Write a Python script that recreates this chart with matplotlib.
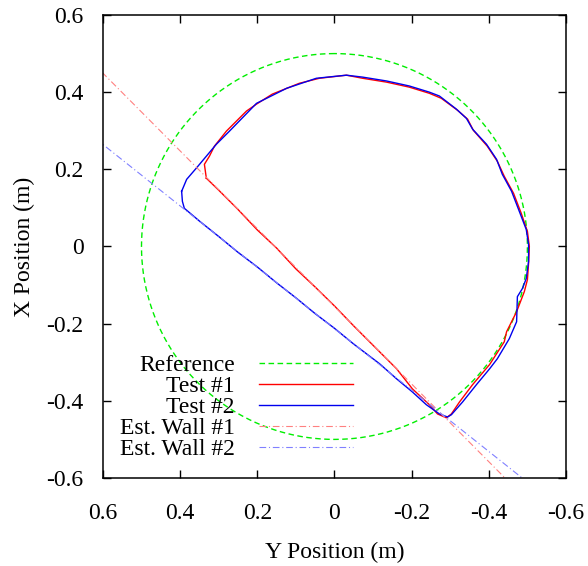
import numpy as np
import matplotlib
matplotlib.use("Agg")
import matplotlib.pyplot as plt

plt.rcParams['font.family'] = ['Liberation Serif', 'DejaVu Serif']
plt.rcParams['mathtext.fontset'] = 'stix'

# Reference circle (radius 0.5 m)
ref_radius = 0.5
ref_angles = np.linspace(0, 2 * np.pi, 361)

# Test #1 trajectory: Y position (horizontal) and X position (vertical)
test1_y = [0.332, 0.337, 0.324, 0.311, 0.280, 0.254, 0.228, 0.202, 0.161, 0.091,
           0.039, -0.031, -0.073, -0.135, -0.194, -0.246, -0.277, -0.319, -0.345, -0.360,
           -0.396, -0.422, -0.440, -0.464, -0.484, -0.500, -0.505, -0.503, -0.500, -0.492,
           -0.472, -0.446, -0.440, -0.402, -0.358, -0.324, -0.303, -0.290, -0.267, -0.246,
           -0.202, -0.161, -0.117, -0.050, 0.000, 0.050, 0.100, 0.150, 0.200, 0.250,
           0.300, 0.332]
test1_x = [0.177, 0.213, 0.234, 0.260, 0.299, 0.325, 0.351, 0.369, 0.395, 0.423,
           0.436, 0.444, 0.436, 0.426, 0.413, 0.397, 0.384, 0.353, 0.330, 0.301,
           0.260, 0.221, 0.182, 0.138, 0.086, 0.039, 0.000, -0.044, -0.086, -0.117,
           -0.169, -0.221, -0.247, -0.306, -0.358, -0.403, -0.434, -0.444, -0.434, -0.410,
           -0.369, -0.317, -0.273, -0.206, -0.154, -0.105, -0.058, -0.004, 0.043, 0.096,
           0.146, 0.177]

# Test #2 trajectory
test2_y = [0.396, 0.383, 0.358, 0.332, 0.306, 0.272, 0.202, 0.124, 0.047, -0.031,
           -0.073, -0.135, -0.194, -0.246, -0.272, -0.316, -0.342, -0.358, -0.394, -0.420,
           -0.435, -0.459, -0.479, -0.497, -0.503, -0.503, -0.497, -0.487, -0.474, -0.472,
           -0.453, -0.422, -0.402, -0.368, -0.332, -0.303, -0.293, -0.272, -0.238, -0.202,
           -0.161, -0.117, -0.050, 0.000, 0.050, 0.100, 0.150, 0.200, 0.250, 0.300,
           0.350, 0.389, 0.394, 0.396]
test2_x = [0.143, 0.174, 0.203, 0.234, 0.265, 0.299, 0.371, 0.410, 0.436, 0.444,
           0.439, 0.429, 0.416, 0.400, 0.390, 0.356, 0.332, 0.304, 0.265, 0.226,
           0.187, 0.143, 0.091, 0.044, 0.005, -0.039, -0.083, -0.109, -0.130, -0.195,
           -0.239, -0.291, -0.317, -0.358, -0.403, -0.436, -0.442, -0.434, -0.410, -0.377,
           -0.343, -0.304, -0.253, -0.212, -0.174, -0.133, -0.094, -0.053, -0.015, 0.026,
           0.066, 0.099, 0.117, 0.143]

# Estimated walls (end points)
wall1_y = [0.70, -0.70]
wall1_x = [0.550, -0.860]
wall2_y = [0.70, -0.70]
wall2_x = [0.344, -0.770]

tick_vals = [0.6, 0.4, 0.2, 0, -0.2, -0.4, -0.6]
tick_labels = ['0.6', '0.4', '0.2', '0', '-0.2', '-0.4', '-0.6']

FS = 17

fig = plt.figure(figsize=(5.88, 5.66), dpi=100)
ax = fig.add_axes([0.175, 0.1555, 0.7876, 0.818])

ax.plot(ref_radius * np.sin(ref_angles), ref_radius * np.cos(ref_angles),
        color='#00ee00', lw=1.0, ls=(0, (4, 2.5)), label='Reference')
ax.plot(test1_y, test1_x, color='#ff0000', lw=1.0, label='Test #1')
ax.plot(test2_y, test2_x, color='#0000ee', lw=1.0, label='Test #2')
ax.plot(wall1_y, wall1_x, color='#ff8080', lw=0.8, ls=(0, (6, 2.5, 1, 2.5)), label='Est. Wall #1')
ax.plot(wall2_y, wall2_x, color='#8080ff', lw=0.8, ls=(0, (6, 2.5, 1, 2.5)), label='Est. Wall #2')

ax.set_xlim(0.6, -0.6)
ax.set_ylim(-0.6, 0.6)
ax.set_xticks(tick_vals)
ax.set_xticklabels(tick_labels)
ax.set_yticks(tick_vals)
ax.set_yticklabels(tick_labels)
ax.tick_params(direction='in', length=6, width=1.0, top=True, right=True,
               labelsize=FS)
ax.tick_params(axis='x', pad=18)
ax.tick_params(axis='y', pad=14)
for s in ax.spines.values():
    s.set_linewidth(1.1)

ax.set_xlabel('Y Position (m)', fontsize=FS, labelpad=13)
ax.set_ylabel('X Position (m)', fontsize=FS, labelpad=8)

leg = ax.legend(loc='center right', bbox_to_anchor=(0.540, 0.152), markerfirst=False,
                frameon=False, fontsize=FS, handlelength=4.0, handletextpad=1.0,
                labelspacing=-0.02, borderaxespad=0, borderpad=0)

fig.savefig('out.png', dpi=100)
